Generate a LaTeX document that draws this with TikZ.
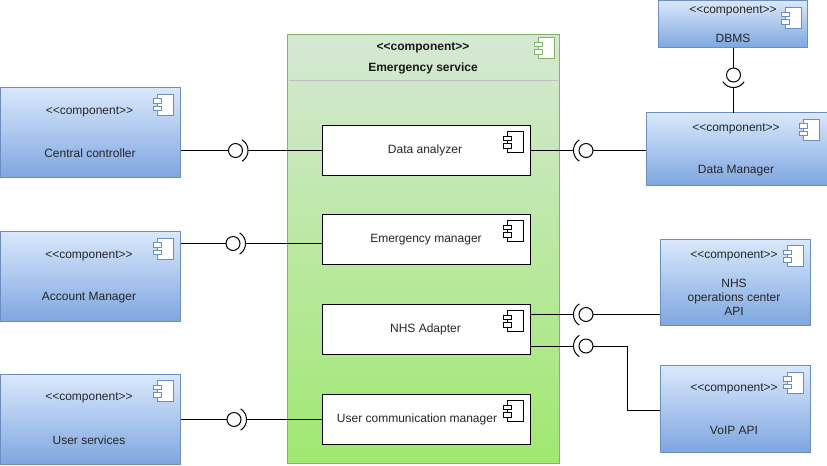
\documentclass[tikz,border=0pt]{standalone}
\usepackage{fontspec}
\setmainfont{Liberation Sans}
\usetikzlibrary{fit}
\definecolor{blueTop}{HTML}{DAE8FC}
\definecolor{blueBot}{HTML}{7EA6E0}
\definecolor{blueLine}{HTML}{6C8EBF}
\definecolor{greenTop}{HTML}{D5E8D4}
\definecolor{greenBot}{HTML}{A0E870}
\definecolor{greenLine}{HTML}{82B366}
\tikzset{
  x=0.75pt,y=-0.75pt,
  every node/.style={font=\fontsize{9}{10.6}\selectfont,inner sep=0pt,outer sep=0pt},
  box/.style={rectangle,draw,fit={#1},line width=0.75pt},
  outerbox/.style={box={#1},draw=blueLine,top color=blueTop,bottom color=blueBot},
  greenbox/.style={box={#1},draw=greenLine,top color=greenTop,bottom color=greenBot},
  innerbox/.style={box={#1},draw=black,fill=white},
  label/.style={align=center,text=black!85,yshift=-0.9pt},
  boldlabel/.style={align=center,font=\fontsize{9}{11}\selectfont\bfseries,text=black!90,yshift=-0.9pt},
  conn/.style={line width=0.75pt,draw=black},
  lolli/.style={circle,draw=black,line width=0.75pt,minimum size=10.5pt},
  socket/.style={line width=0.75pt,draw=black},
  pics/icon/.style={code={
    \draw[line width=0.75pt,draw=#1,fill=white] (-16.5,-10.5) rectangle (0,10.5);
    \draw[line width=0.75pt,draw=#1,fill=white] (-20.5,-6) rectangle (-12,-1.5);
    \draw[line width=0.75pt,draw=#1,fill=white] (-20.5,1.5) rectangle (-12,6);
  }},
}
\begin{document}
\begin{tikzpicture}
\useasboundingbox (0,0) rectangle (827,465);
\fill[white] (0,0) rectangle (827,465);

% container
\node[greenbox={(287.5,34.5)(559.5,463.5)}] (es) {};
\draw[line width=0.75pt,draw=black!25] (288.5,80.5) -- (558,80.5);
\pic at (554.5,48) {icon=greenLine};
\node[boldlabel] (esa) at (423,46.5) {<{}<component>{}>};
\node[boldlabel] (esb) at (423,67) {Emergency service};

% inner components
\node[innerbox={(322,125)(530,175)}] (da) {};
\node[innerbox={(322,214)(530,264)}] (em) {};
\node[innerbox={(322,304)(530,354)}] (na) {};
\node[innerbox={(322,394)(530,444)}] (uc) {};
\pic at (523.5,142) {icon=black};
\pic at (523.5,231) {icon=black};
\pic at (523.5,321) {icon=black};
\pic at (523.5,411) {icon=black};
\node[label] (dat) at (425,149.5) {Data analyzer};
\node[label] (emt) at (426,238.5) {Emergency manager};
\node[label] (nat) at (425.5,328.5) {NHS Adapter};
\node[label] (uct) at (417,418.5) {User communication manager};

% outer components
\node[outerbox={(0,87.5)(180.5,177.5)}] (cc) {};
\node[outerbox={(0,231.5)(180.5,321.5)}] (am) {};
\node[outerbox={(0,374.5)(180.5,464.5)}] (us) {};
\node[outerbox={(658,0.5)(807.5,47.5)}] (db) {};
\node[outerbox={(646,112.5)(827,185.5)}] (dm) {};
\node[outerbox={(660,239.5)(810,325.5)}] (nh) {};
\node[outerbox={(660,365.5)(810,452.5)}] (vo) {};
\pic at (173.5,104.5) {icon=blueLine};
\pic at (173.5,248.5) {icon=blueLine};
\pic at (173.5,391) {icon=blueLine};
\pic at (801.5,18) {icon=blueLine};
\pic at (819.5,129.5) {icon=blueLine};
\pic at (803.5,256) {icon=blueLine};
\pic at (803.5,382.5) {icon=blueLine};

\node[label] (cca) at (89.5,110.5) {<{}<component>{}>};
\node[label] (ccb) at (90,152.5) {Central controller};
\node[label] (ama) at (89,254.5) {<{}<component>{}>};
\node[label] (amb) at (89,296.5) {Account Manager};
\node[label] (usa) at (89,397) {<{}<component>{}>};
\node[label] (usb) at (89,439) {User services};
\node[label] (dba) at (733,9.5) {<{}<component>{}>};
\node[label] (dbb) at (733,37) {DBMS};
\node[label] (dma) at (736,128) {<{}<component>{}>};
\node[label] (dmb) at (736,169.5) {Data Manager};
\node[label] (nha) at (734,254.5) {<{}<component>{}>};
\node[label] (nhb) at (734,296) {NHS\\operations center\\API};
\node[label] (voa) at (734,388) {<{}<component>{}>};
\node[label] (vob) at (734,429.5) {VoIP API};

% lollipops
\node[lolli] (l1) at (235.5,150.5) {};
\node[lolli] (l2) at (233,243.5) {};
\node[lolli] (l3) at (234,419.5) {};
\node[lolli] (r1) at (586,150.5) {};
\node[lolli] (r2) at (586,314.5) {};
\node[lolli] (r3) at (586,346) {};
\node[lolli] (t1) at (733.5,75) {};

% socket apexes
\coordinate (l1s) at (248,150.5);
\coordinate (l2s) at (245.5,243.5);
\coordinate (l3s) at (246.5,419.5);
\coordinate (r1s) at (573.5,150.5);
\coordinate (r2s) at (573.5,314.5);
\coordinate (r3s) at (573.5,346);
\coordinate (t1s) at (733.5,87.5);
\foreach \c/\d in {l1/0,l2/0,l3/0,r1/180,r2/180,r3/180,t1/90}{
  \draw[socket,shift={(\c)}] plot[domain=-58:58,samples=25,smooth]
    ({12.5*cos(\x+\d)},{12.5*sin(\x+\d)});
}

% connectors
\draw[conn] (cc.east|-l1) -- (l1);
\draw[conn] (l1s) -- (da.west|-l1s);
\draw[conn] (am.east|-l2) -- (l2);
\draw[conn] (l2s) -- (em.west|-l2s);
\draw[conn] (us.east|-l3) -- (l3);
\draw[conn] (l3s) -- (uc.west|-l3s);
\draw[conn] (da.east|-r1s) -- (r1s);
\draw[conn] (r1) -- (dm.west|-r1);
\draw[conn] (na.east|-r2s) -- (r2s);
\draw[conn] (r2) -- (nh.west|-r2);
\draw[conn] (na.east|-r3s) -- (r3s);
\coordinate (vb) at (627.5,410);
\draw[conn] (r3) -| (vb) -- (vo.west|-vb);
\draw[conn] (db.south-|t1) -- (t1);
\draw[conn] (t1s) -- (dm.north-|t1s);
\end{tikzpicture}
\end{document}
